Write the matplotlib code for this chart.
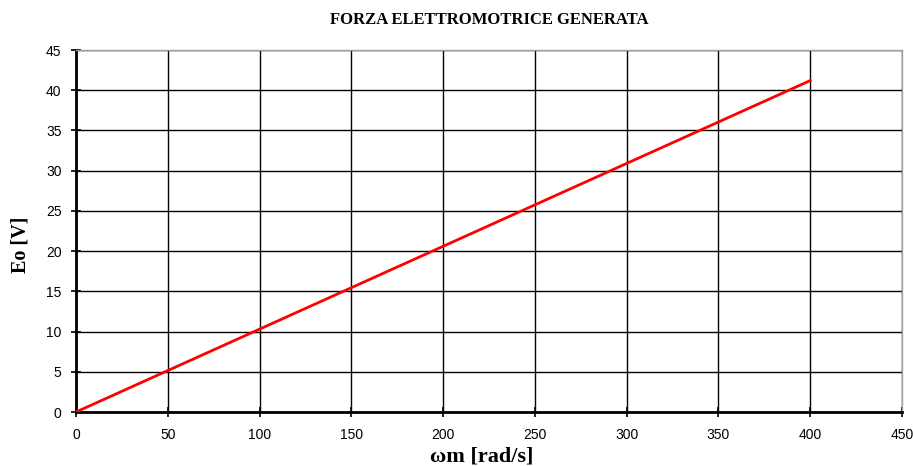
import matplotlib
matplotlib.use("Agg")
import matplotlib.pyplot as plt

# dati
omega = [0, 50, 100, 150, 200, 250, 300, 350, 400]
e0 = [0, 5.15, 10.3, 15.45, 20.6, 25.75, 30.9, 36.05, 41.2]

xticks = list(range(0, 451, 50))
yticks = list(range(0, 46, 5))

fig = plt.figure(figsize=(9.13, 4.66), dpi=100)
ax = fig.add_axes([76 / 913, 1 - 412 / 466, 826 / 913, 362 / 466])

ax.plot(omega, e0, color="red", lw=2, zorder=3)

ax.set_xlim(0, 450)
ax.set_ylim(0, 45)
ax.set_xticks(xticks)
ax.set_yticks(yticks)
ax.grid(True, color="black", lw=1)
ax.set_axisbelow(True)

for s in ["top", "right"]:
    ax.spines[s].set_color("#a0a0a0")
    ax.spines[s].set_linewidth(1)
for s in ["left", "bottom"]:
    ax.spines[s].set_color("black")
    ax.spines[s].set_linewidth(2)

ax.tick_params(direction="inout", length=7, width=1.2, colors="black",
               labelsize=10)
ax.tick_params(axis="x", pad=8)
ax.tick_params(axis="y", pad=7)
for lab in ax.get_xticklabels() + ax.get_yticklabels():
    lab.set_family("Liberation Sans")

fig.text(489 / 913, 1 - 20 / 466, "FORZA ELETTROMOTRICE GENERATA",
         ha="center", va="center", family="Liberation Serif",
         fontweight="bold", fontsize=12)
fig.text(20 / 913, 1 - 245 / 466, "Eo [V]", rotation=90,
         ha="center", va="center", family="Liberation Serif",
         fontweight="bold", fontsize=14.5)
fig.text(482 / 913, 1 - 457 / 466, "ωm [rad/s]",
         ha="center", va="center", family="Liberation Serif",
         fontweight="bold", fontsize=16)

fig.savefig("out.png", dpi=100)
